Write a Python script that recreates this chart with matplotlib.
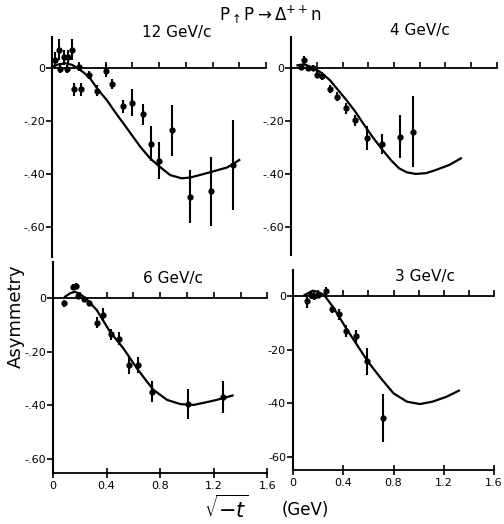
import numpy as np
from matplotlib import pyplot as plt

# data (asymmetry vs sqrt(-t) in GeV)
x12 = [0.02, 0.05, 0.09, 0.12, 0.15, 0.06, 0.11, 0.20, 0.165, 0.22, 0.28, 0.34, 0.40,
       0.45, 0.53, 0.60, 0.68, 0.74, 0.80, 0.90, 1.03, 1.19, 1.35]
y12 = [0.03, 0.07, 0.04, 0.04, 0.07, -0.005, -0.005, 0.005, -0.08, -0.08, -0.025, -0.085,
       -0.01, -0.06, -0.145, -0.13, -0.175, -0.285, -0.35, -0.235, -0.485, -0.465, -0.365]
e12 = [0.03, 0.04, 0.03, 0.03, 0.04, 0.015, 0.015, 0.015, 0.025, 0.025, 0.015, 0.02,
       0.025, 0.02, 0.025, 0.05, 0.04, 0.065, 0.07, 0.095, 0.10, 0.13, 0.17]
c12x = [0.0, 0.05, 0.10, 0.15, 0.19, 0.24, 0.285, 0.34, 0.41, 0.47, 0.534, 0.60, 0.66,
        0.734, 0.80, 0.884, 0.97, 1.034, 1.11, 1.19, 1.31, 1.40]
c12y = [0.005, 0.014, 0.018, 0.012, 0.0, -0.018, -0.039, -0.079, -0.121, -0.165, -0.209,
        -0.255, -0.297, -0.341, -0.37, -0.404, -0.416, -0.413, -0.403, -0.392, -0.375, -0.347]

x4 = [0.08, 0.10, 0.13, 0.17, 0.20, 0.24, 0.30, 0.36, 0.43, 0.50, 0.59, 0.71, 0.845, 0.95]
y4 = [0.005, 0.03, 0.0, 0.0, -0.025, -0.03, -0.08, -0.108, -0.152, -0.198, -0.265, -0.287,
      -0.259, -0.24]
e4 = [0.01, 0.015, 0.01, 0.01, 0.012, 0.015, 0.015, 0.018, 0.02, 0.022, 0.045, 0.038,
      0.08, 0.135]
c4x = [0.05, 0.10, 0.18, 0.24, 0.30, 0.36, 0.43, 0.50, 0.56, 0.63, 0.71, 0.78, 0.84, 0.90,
       0.97, 1.05, 1.125, 1.23, 1.32]
c4y = [0.01, 0.014, 0.0, -0.02, -0.045, -0.08, -0.121, -0.165, -0.209, -0.258, -0.309,
       -0.35, -0.379, -0.394, -0.40, -0.397, -0.385, -0.366, -0.341]

x6 = [0.085, 0.15, 0.17, 0.19, 0.23, 0.27, 0.325, 0.375, 0.43, 0.49, 0.57, 0.635, 0.74,
      1.005, 1.265]
y6 = [-0.02, 0.04, 0.045, 0.007, -0.005, -0.018, -0.092, -0.062, -0.136, -0.152, -0.252,
      -0.25, -0.35, -0.395, -0.368]
e6 = [0.012, 0.012, 0.012, 0.01, 0.01, 0.01, 0.02, 0.025, 0.02, 0.025, 0.03, 0.03, 0.04,
      0.055, 0.06]
c6x = [0.09, 0.13, 0.164, 0.20, 0.24, 0.326, 0.425, 0.525, 0.625, 0.69, 0.75, 0.85, 0.95,
       1.05, 1.2, 1.34]
c6y = [0.005, 0.018, 0.023, 0.015, 0.0, -0.045, -0.126, -0.188, -0.262, -0.305, -0.343,
       -0.38, -0.396, -0.399, -0.383, -0.364]

x3 = [0.11, 0.14, 0.17, 0.20, 0.26, 0.31, 0.365, 0.425, 0.505, 0.59, 0.72]
y3 = [-0.02, 0.005, 0.0, 0.005, 0.018, -0.05, -0.068, -0.13, -0.15, -0.243, -0.456]
e3 = [0.025, 0.015, 0.015, 0.012, 0.015, 0.015, 0.02, 0.022, 0.025, 0.05, 0.09]
c3x = [0.093, 0.157, 0.20, 0.248, 0.326, 0.416, 0.52, 0.597, 0.70, 0.80, 0.907, 1.01,
       1.11, 1.22, 1.32]
c3y = [0.004, 0.02, 0.015, 0.004, -0.046, -0.115, -0.19, -0.245, -0.307, -0.363, -0.394,
       -0.403, -0.394, -0.376, -0.353]

panels = [
    # label, data, curve, [left, bottom, width, height], ylim, ytick labels, bottom axis
    ('12 GeV/c', (x12, y12, e12), (c12x, c12y), [0.1032, 0.5095, 0.4246, 0.4198],
     (-0.713, 0.117), ['-.60', '-.40', '-.20', '0'], False, (177, 33)),
    ('4 GeV/c', (x4, y4, e4), (c4x, c4y), [0.5774, 0.5134, 0.4087, 0.4160],
     (-0.706, 0.117), ['-.60', '-.40', '-.20', '0'], False, (420, 31)),
    ('6 GeV/c', (x6, y6, e6), (c6x, c6y), [0.1052, 0.0973, 0.4254, 0.4027],
     (-0.653, 0.134), ['-.60', '-.40', '-.20', '0'], True, (173, 278)),
    ('3 GeV/c', (x3, y3, e3), (c3x, c3y), [0.5813, 0.1030, 0.3990, 0.3817],
     (-0.649, 0.097), ['-60', '-40', '-20', '0'], True, (425, 276)),
]

W, H = 504, 524
fig = plt.figure(figsize=(W / 100, H / 100), dpi=100)
plt.rcParams['font.family'] = 'DejaVu Sans'

for title, (dx, dy, de), (cx, cy), rect, ylim, ylabels, bottom_axis, tpos in panels:
    ax = fig.add_axes(rect)
    ax.set_xlim(0, 1.6)
    ax.set_ylim(*ylim)
    ax.patch.set_alpha(0)

    # zero line acts as the x axis with small upward ticks
    ax.spines['bottom'].set_position(('data', 0))
    ax.spines['bottom'].set_linewidth(1.3)
    ax.spines['left'].set_linewidth(1.5)
    for s in ['top', 'right']:
        ax.spines[s].set_visible(False)
    ax.set_xticks(np.arange(0.2, 1.61, 0.2))
    ax.tick_params(axis='x', direction='in', length=4, width=1.2, labelbottom=False)

    ax.set_yticks([-0.6, -0.4, -0.2, 0])
    ax.set_yticklabels(ylabels)
    ax.tick_params(axis='y', direction='out', length=4, width=1.2, labelsize=8, pad=1)

    ax.errorbar(dx, dy, yerr=de, fmt='o', color='black', ms=3.5, elinewidth=1.5,
                capsize=0, zorder=3)
    ax.plot(cx, cy, color='black', lw=1.6)

    if bottom_axis:
        sec = ax.secondary_xaxis(0.0)
        sec.set_xticks([0, 0.4, 0.8, 1.2, 1.6])
        sec.set_xticklabels(['0', '0.4', '0.8', '1.2', '1.6'])
        sec.spines['bottom'].set_linewidth(1.3)
        sec.tick_params(direction='inout', length=7, width=1.2, labelsize=8, pad=2)

    fig.text(tpos[0] / W, 1 - tpos[1] / H, title, ha='center', va='center', fontsize=11)

fig.text(270 / W, 1 - 15 / H, r'$\mathrm{P_{\uparrow}P \rightarrow \Delta^{++}n}$',
         ha='center', va='center', fontsize=12)
fig.text(16 / W, 1 - 316 / H, 'Asymmetry', rotation=90, ha='center', va='center',
         fontsize=13)
fig.text(226 / W, 1 - 508 / H, r'$\sqrt{-t}$', ha='center', va='center', fontsize=15)
fig.text(305 / W, 1 - 510 / H, '(GeV)', ha='center', va='center', fontsize=12)

plt.savefig('out.png', dpi=100)
